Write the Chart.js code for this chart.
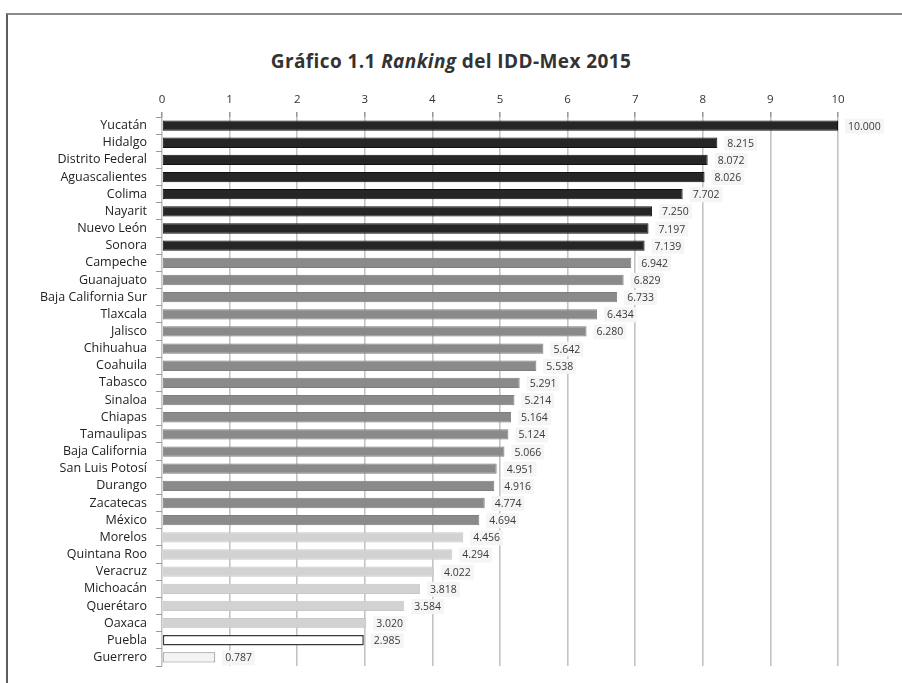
<!DOCTYPE html>
<html lang="es">
<head>
<meta charset="utf-8">
<title>Ranking del IDD-Mex 2015</title>
<script src="https://cdn.jsdelivr.net/npm/chart.js@4.4.1/dist/chart.umd.min.js"></script>
<style>
  html, body { margin: 0; padding: 0; background: #fff; overflow: hidden; }
  #wrap { position: relative; width: 902px; height: 683px; }
  #frame {
    position: absolute; left: 6px; top: 13px; right: -10px; bottom: -10px;
    border-top: 2px solid #8c8c8c; border-left: 2px solid #5e5e5e;
  }
  #title {
    position: absolute; left: 0; top: 48px; width: 902px; text-align: center;
    font: bold 19px "Open Sans", sans-serif; letter-spacing: 0.4px; color: #333;
  }
  canvas { position: absolute; left: 0; top: 0; }
</style>
</head>
<body>
<div id="wrap">
  <div id="frame"></div>
  <div id="title">Gráfico 1.1 <i>Ranking</i> del IDD-Mex 2015</div>
  <canvas id="chart" width="902" height="683"></canvas>
</div>
<script>
/* global Chart */
const states = [
  "Yucatán", "Hidalgo", "Distrito Federal", "Aguascalientes", "Colima",
  "Nayarit", "Nuevo León", "Sonora", "Campeche", "Guanajuato",
  "Baja California Sur", "Tlaxcala", "Jalisco", "Chihuahua", "Coahuila",
  "Tabasco", "Sinaloa", "Chiapas", "Tamaulipas", "Baja California",
  "San Luis Potosí", "Durango", "Zacatecas", "México", "Morelos",
  "Quintana Roo", "Veracruz", "Michoacán", "Querétaro", "Oaxaca",
  "Puebla", "Guerrero"
];
const scores = [
  10.000, 8.215, 8.072, 8.026, 7.702,
  7.250, 7.197, 7.139, 6.942, 6.829,
  6.733, 6.434, 6.280, 5.642, 5.538,
  5.291, 5.214, 5.164, 5.124, 5.066,
  4.951, 4.916, 4.774, 4.694, 4.456,
  4.294, 4.022, 3.818, 3.584, 3.020,
  2.985, 0.787
];
const xTicks = [0, 1, 2, 3, 4, 5, 6, 7, 8, 9, 10];
// number of states in each development tier, top to bottom
const tierSizes = [8, 16, 6, 1, 1];

const tierFill = ["#262626", "#8a8a8a", "#d2d2d2", "#ffffff", "#f3f3f3"];
const tierBorder = ["#111111", "#7e7e7e", "#c8c8c8", "#3a3a3a", "#8a8a8a"];

const tierOf = [];
tierSizes.forEach((n, t) => { for (let i = 0; i < n; i++) tierOf.push(t); });

const valueLabels = {
  id: "valueLabels",
  afterDatasetsDraw(chart) {
    const ctx = chart.ctx;
    const meta = chart.getDatasetMeta(0);
    ctx.save();
    ctx.font = '10.5px "Open Sans", sans-serif';
    ctx.textBaseline = "middle";
    meta.data.forEach((bar, i) => {
      const txt = scores[i].toFixed(3);
      const x = bar.x + 10;
      const w = ctx.measureText(txt).width;
      ctx.fillStyle = "#f5f5f5";
      ctx.fillRect(x - 3, bar.y - 7, w + 6, 15);
      ctx.fillStyle = "#3a3a3a";
      ctx.fillText(txt, x, bar.y + 1);
    });
    ctx.restore();
  }
};

new Chart(document.getElementById("chart"), {
  type: "bar",
  data: {
    labels: states,
    datasets: [{
      data: scores,
      backgroundColor: tierOf.map((t) => tierFill[t]),
      borderColor: tierOf.map((t) => tierBorder[t]),
      borderWidth: tierOf.map((t) => (t === 3 ? 1.5 : 1)),
      borderSkipped: false,
      categoryPercentage: 1,
      barPercentage: 0.6
    }]
  },
  options: {
    indexAxis: "y",
    responsive: false,
    animation: false,
    layout: { padding: { top: 80, right: 64, bottom: 17, left: 0 } },
    plugins: { legend: { display: false }, tooltip: { enabled: false } },
    scales: {
      x: {
        position: "top",
        min: 0,
        max: 10,
        afterBuildTicks: (s) => { s.ticks = xTicks.map((v) => ({ value: v })); },
        afterFit: (s) => { s.height = 37; },
        border: { display: false },
        grid: { color: "#c4c4c4", lineWidth: 1.6, tickLength: 5, tickColor: "#9a9a9a" },
        ticks: {
          padding: 5,
          color: "#333",
          font: { family: "Open Sans", size: 11.5 }
        }
      },
      y: {
        afterFit: (s) => { s.width = 162; },
        border: { display: false },
        grid: { drawOnChartArea: false, tickLength: 6, color: "#9a9a9a", lineWidth: 1 },
        ticks: {
          padding: 9,
          color: "#222",
          autoSkip: false,
          font: { family: "Open Sans", size: 12.5 }
        }
      }
    }
  },
  plugins: [valueLabels]
});
</script>
</body>
</html>
